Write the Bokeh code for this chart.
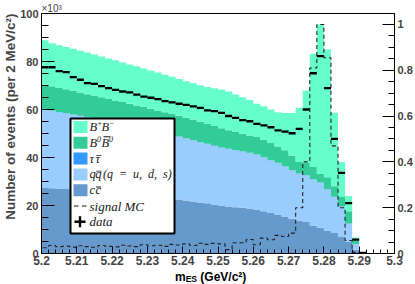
import numpy as np
from bokeh.plotting import figure
from bokeh.layouts import column
from bokeh.models import (Range1d, LinearAxis, SingleIntervalTicker, CustomJSTickFormatter,
                          Label, Title, BoxAnnotation, Div)
from bokeh.embed import file_html
from bokeh.resources import INLINE

# ---------------- data (units: 10^3 events / 2 MeV) ----------------
x_start = 5.200
bin_width = 0.002

# stacked levels (top of each cumulative component), 45 bins 5.200 .. 5.290
cc_top = [27.3, 27.2, 27.1, 26.9, 26.8, 26.6, 26.4, 26.2, 26.0, 25.7,
          25.5, 25.2, 24.9, 24.6, 24.3, 24.0, 23.6, 23.3, 22.9, 22.5,
          22.1, 21.7, 21.3, 20.9, 20.4, 20.0, 19.6, 19.3, 19.1, 18.8,
          18.3, 17.6, 16.9, 16.3, 15.4, 14.5, 13.8, 13.1, 11.7, 10.7,
          9.6, 8.5, 6.9, 4.8, 1.6]
qq_top = [60.0, 59.5, 58.9, 58.4, 57.8, 57.3, 56.7, 56.1, 55.6, 55.0,
          54.4, 53.8, 53.2, 52.6, 52.0, 51.3, 50.7, 50.0, 49.3, 48.6,
          47.9, 47.1, 46.4, 45.6, 44.8, 44.1, 43.5, 43.0, 42.5, 41.9,
          41.1, 40.1, 38.8, 37.7, 36.3, 34.6, 33.2, 32.5, 30.8, 29.5,
          26.8, 23.5, 19.5, 12.4, 4.0]
tautau = [0.1, 0.1, 0.1, 0.1, 0.1, 0.1, 0.1, 0.1, 0.1, 0.1,
          0.1, 0.1, 0.1, 0.1, 0.1, 0.1, 0.1, 0.1, 0.1, 0.1,
          0.1, 0.1, 0.1, 0.1, 0.1, 0.1, 0.1, 0.1, 0.1, 0.1,
          0.1, 0.1, 0.1, 0.1, 0.1, 0.1, 0.1, 0.1, 0.1, 0.1,
          0.1, 0.1, 0.1, 0.1, 0.0]
b0b0_top = [70.3, 69.7, 69.0, 68.4, 67.7, 67.1, 66.4, 65.8, 65.1, 64.4,
            63.8, 63.1, 62.4, 61.7, 61.0, 60.3, 59.6, 58.9, 58.2, 57.4,
            56.6, 55.8, 54.9, 54.0, 53.1, 52.2, 51.4, 50.6, 49.9, 49.2,
            48.5, 47.4, 46.0, 44.6, 43.0, 40.8, 38.1, 37.7, 36.0, 33.2,
            31.8, 28.0, 23.5, 17.6, 5.4]
total_top = [88.9, 87.6, 86.8, 86.0, 85.3, 84.5, 83.7, 82.9, 82.1, 81.3,
             80.5, 79.6, 78.8, 78.0, 77.1, 76.3, 75.4, 74.5, 73.6, 72.7,
             71.8, 70.9, 70.0, 69.4, 68.9, 68.3, 67.5, 66.3, 65.1, 64.0,
             62.4, 61.4, 60.0, 58.9, 58.5, 58.5, 60.7, 67.9, 83.2, 95.4,
             85.0, 58.6, 38.1, 24.0, 6.7]

# data, 46 bins
data_y = [77.6, 77.6, 76.0, 75.6, 73.5, 72.4, 71.0, 70.7, 69.7, 68.9,
          68.2, 67.5, 67.1, 66.2, 65.4, 64.9, 64.3, 63.5, 63.0, 62.4,
          61.9, 61.3, 60.7, 59.6, 59.3, 58.6, 57.3, 56.5, 55.6, 55.1,
          54.0, 53.4, 52.6, 51.3, 50.8, 50.1, 51.9, 60.0, 75.1, 82.2,
          68.9, 47.8, 33.6, 21.0, 5.8, 0.3]

# signal MC (right axis, arbitrary units), 45 bins
signal_mc = [0.025, 0.035, 0.030, 0.032, 0.028, 0.034, 0.030, 0.027, 0.035, 0.031,
             0.029, 0.036, 0.033, 0.030, 0.038, 0.034, 0.036, 0.031, 0.040, 0.037,
             0.042, 0.035, 0.045, 0.040, 0.044, 0.042, 0.017, 0.047, 0.047, 0.061,
             0.038, 0.067, 0.060, 0.079, 0.074, 0.089, 0.200, 0.400, 0.810, 1.000,
             0.855, 0.470, 0.200, 0.057, 0.005]

colors = {"bpbm": "#66FFCC", "b0b0": "#33CC99", "tt": "#3399FF", "qq": "#99CCFF", "cc": "#6699CC"}

# ---------------- derived ----------------
n_bins = len(cc_top)
edges = x_start + bin_width * np.arange(n_bins + 1)
zeros = np.zeros(n_bins)
cc_a = np.array(cc_top)
qq_a = np.array(qq_top)
tt_a = qq_a + np.array(tautau)
b0_a = np.array(b0b0_top)
tot_a = np.array(total_top)


def step_y(v):
    return np.repeat(np.asarray(v, dtype=float), 2)


xs = np.repeat(edges, 2)[1:-1]

FONT = "Liberation Sans"
p = figure(width=415, height=269,
           x_range=Range1d(5.2, 5.3), y_range=Range1d(0, 100),
           output_backend="svg", toolbar_location=None, title=None,
           min_border_left=40, min_border_right=20, min_border_top=13, min_border_bottom=16)
p.extra_y_ranges = {"sig": Range1d(0, 1.048)}
p.xgrid.visible = False
p.ygrid.visible = False
p.outline_line_color = "black"
p.outline_line_width = 1
p.background_fill_color = "white"
p.border_fill_color = "white"

p.varea(x=xs, y1=step_y(zeros), y2=step_y(cc_a), fill_color=colors["cc"])
p.varea(x=xs, y1=step_y(cc_a), y2=step_y(qq_a), fill_color=colors["qq"])
p.varea(x=xs, y1=step_y(qq_a), y2=step_y(tt_a), fill_color=colors["tt"])
p.varea(x=xs, y1=step_y(tt_a), y2=step_y(b0_a), fill_color=colors["b0b0"])
p.varea(x=xs, y1=step_y(b0_a), y2=step_y(tot_a), fill_color=colors["bpbm"])

# signal MC dashed histogram outline on the right axis
sx = np.concatenate([[edges[0]], xs, [edges[-1]]])
sy = np.concatenate([[0.0], step_y(signal_mc), [0.0]])
p.line(sx, sy, y_range_name="sig", line_color="#222222", line_width=1.1, line_dash="4 3")

# data points (horizontal bin-width bars)
n_d = len(data_y)
d_left = x_start + bin_width * np.arange(n_d)
p.segment(x0=d_left, x1=d_left + bin_width, y0=data_y, y1=data_y,
          line_color="black", line_width=2.3, line_cap="butt")

# ---------------- axes ----------------
xa = p.xaxis[0]
xa.ticker = SingleIntervalTicker(interval=0.01, num_minor_ticks=5)
xa.formatter = CustomJSTickFormatter(code="return parseFloat(tick.toFixed(3)).toString();")
xa.major_tick_in = 7
xa.major_tick_out = 0
xa.minor_tick_in = 4
xa.minor_tick_out = 0
xa.major_label_text_font = FONT
xa.major_label_text_font_style = "bold"
xa.major_label_text_font_size = "12px"
xa.major_label_standoff = 2
xa.axis_line_color = "black"

ya = p.yaxis[0]
ya.ticker = SingleIntervalTicker(interval=20, num_minor_ticks=4)
ya.major_tick_in = 13
ya.major_tick_out = 0
ya.minor_tick_in = 7
ya.minor_tick_out = 0
ya.major_label_text_font = FONT
ya.major_label_text_font_style = "bold"
ya.major_label_text_font_size = "11px"
ya.major_label_standoff = 3

ra = LinearAxis(y_range_name="sig",
                ticker=SingleIntervalTicker(interval=0.2, num_minor_ticks=4),
                formatter=CustomJSTickFormatter(code="return parseFloat(tick.toFixed(2)).toString();"))
ra.major_tick_in = 12
ra.major_tick_out = 0
ra.minor_tick_in = 6
ra.minor_tick_out = 0
ra.major_label_text_font = FONT
ra.major_label_text_font_style = "bold"
ra.major_label_text_font_size = "11px"
ra.major_label_standoff = 3
p.add_layout(ra, "right")

# axis titles in side panels
p.add_layout(Title(text="Number of events (per 2 MeV/c\u00b2)", align="right", offset=0,
                   standoff=0, text_font=FONT, text_font_style="bold",
                   text_font_size="13.5px"), "left")
p.add_layout(Title(text="\u00d710\u00b3", align="left", standoff=0, text_font=FONT,
                   text_font_style="normal", text_font_size="10px"), "above")

# ---------------- legend (drawn by hand inside the frame, screen px from frame bottom-left) ----------------
LF = "Liberation Serif"
INK = "#1a1a1a"


def txt(x, y, s, size=12.5):
    p.add_layout(Label(x=x, y=y, x_units="screen", y_units="screen", text=s,
                       text_font=LF, text_font_style="italic", text_font_size=f"{size}px",
                       text_color=INK, text_baseline="middle"))


def box(l, r, b, t, color, line_color=None, lw=0):
    p.add_layout(BoxAnnotation(left=l, right=r, bottom=b, top=t,
                               left_units="screen", right_units="screen",
                               bottom_units="screen", top_units="screen",
                               fill_color=color, fill_alpha=1.0,
                               line_color=line_color, line_width=lw, line_alpha=1.0))


box(29, 133, 20, 135, "white", "black", 2)
row_cy = [126.5 - 15.8 * i for i in range(7)]   # row centres (frame px, y up)
swatch_colors = [colors["bpbm"], colors["b0b0"], colors["tt"], colors["qq"], colors["cc"]]
for i, c in enumerate(swatch_colors):
    box(32, 46, row_cy[i] - 6, row_cy[i] + 6, c)

TX = 48
SUP = 3.8      # superscript raise
CAPBAR = 5.6   # bar above capitals (from row centre)
LOWBAR = 2.8   # bar above lower-case letters
# B+ B-
c = row_cy[0]
txt(TX, c, "B"); txt(TX + 7.6, c + SUP, "+", 8); txt(TX + 12, c, "B"); txt(TX + 19.6, c + SUP, "\u2212", 8)
# B0 B0bar
c = row_cy[1]
txt(TX, c, "B"); txt(TX + 7.6, c + SUP, "0", 8); txt(TX + 12, c, "B"); txt(TX + 19.6, c + SUP, "0", 8)
box(TX + 14, TX + 20.5, c + CAPBAR, c + CAPBAR + 0.9, INK)
# tau tau-bar
c = row_cy[2]
txt(TX, c, "\u03c4"); txt(TX + 6, c, "\u03c4")
box(TX + 6.8, TX + 11.8, c + LOWBAR, c + LOWBAR + 0.9, INK)
# q q-bar (q = u, d, s)
c = row_cy[3]
txt(TX, c, "q"); txt(TX + 5.8, c, "q")
box(TX + 6.6, TX + 12.1, c + LOWBAR, c + LOWBAR + 0.9, INK)
txt(TX + 13.5, c, "(q\u2002=\u2002u,\u2002d,\u2002s)", 12)
# c c-bar
c = row_cy[4]
txt(TX, c, "c"); txt(TX + 6, c, "c")
box(TX + 6.6, TX + 11.6, c + LOWBAR, c + LOWBAR + 0.9, INK)
# signal MC
c = row_cy[5]
box(32.5, 37, c - 0.5, c + 0.6, INK)
box(40.5, 45, c - 0.5, c + 0.6, INK)
txt(TX, c, "signal MC", 13)
# data
c = row_cy[6]
box(33, 44, c - 1.2, c + 1.2, "black")
box(37.3, 39.7, c - 5.5, c + 5.5, "black")
txt(TX, c, "data", 13)

# ---------------- x-axis title (with subscript) ----------------
xlabel = Div(text=('<div style="padding-left:175px;white-space:nowrap;'
                   'font-family:\'Liberation Sans\';font-weight:bold;font-size:12px;'
                   'line-height:14px;color:#000">'
                   'm<sub style="font-size:8.5px;line-height:0;vertical-align:-1px">ES</sub>'
                   '&nbsp;(GeV/c\u00b2)</div>'),
             width=415, height=15, margin=0)

layout = column(p, xlabel, spacing=0)
open("out.html", "w").write(file_html(layout, INLINE))
